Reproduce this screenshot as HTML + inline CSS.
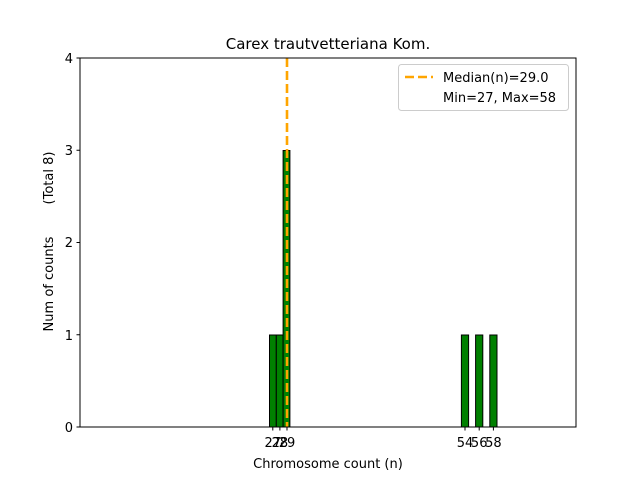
<!DOCTYPE html>
<html><head><style>body{margin:0;background:#fff}svg{display:block}</style></head><body>
<svg width="640" height="480" xmlns="http://www.w3.org/2000/svg" font-family="DejaVu Sans, Liberation Sans, sans-serif">
<rect width="640" height="480" fill="#fff"/>
<g fill="green" stroke="#000" stroke-width="1">
<rect x="269.5" y="335" width="6.8" height="92"/>
<rect x="276.3" y="335" width="6.8" height="92"/>
<rect x="283.1" y="150.5" width="6.8" height="276.5"/>
<rect x="461.4" y="335" width="7.2" height="92"/>
<rect x="475.6" y="335" width="7.2" height="92"/>
<rect x="489.8" y="335" width="7.2" height="92"/>
</g>
<line x1="287" y1="58" x2="287" y2="427" stroke="orange" stroke-width="2.6" stroke-dasharray="9,4"/>
<rect x="80" y="58" width="496" height="369" fill="none" stroke="#000" stroke-width="1"/>
<g stroke="#000">
<line x1="76.5" y1="427" x2="80" y2="427"/><line x1="76.5" y1="334.75" x2="80" y2="334.75"/>
<line x1="76.5" y1="242.5" x2="80" y2="242.5"/><line x1="76.5" y1="150.25" x2="80" y2="150.25"/>
<line x1="76.5" y1="58" x2="80" y2="58"/>
<line x1="272.8" y1="427" x2="272.8" y2="430.5"/><line x1="279.9" y1="427" x2="279.9" y2="430.5"/>
<line x1="287" y1="427" x2="287" y2="430.5"/><line x1="465" y1="427" x2="465" y2="430.5"/>
<line x1="479.2" y1="427" x2="479.2" y2="430.5"/><line x1="493.4" y1="427" x2="493.4" y2="430.5"/>
</g>
<g font-size="13" fill="#000" text-anchor="end">
<text x="73" y="432">0</text><text x="73" y="340">1</text><text x="73" y="247">2</text>
<text x="73" y="155">3</text><text x="73" y="63">4</text>
</g>
<g font-size="13" fill="#000" text-anchor="middle">
<text x="272.8" y="447">27</text><text x="279.9" y="447">28</text><text x="287" y="447">29</text>
<text x="465" y="447">54</text><text x="479.2" y="447">56</text><text x="493.4" y="447">58</text>
<text x="328" y="468">Chromosome count (n)</text>
<text x="328" y="49" font-size="15">Carex trautvetteriana Kom.</text>
</g>
<text transform="translate(53,284) rotate(-90)" font-size="13" text-anchor="middle">Num of counts</text>
<text transform="translate(53,178) rotate(-90)" font-size="13" text-anchor="middle">(Total 8)</text>
<rect x="398.5" y="64.5" width="170" height="46" fill="#fff" stroke="#ccc" rx="3"/>
<line x1="405" y1="77" x2="433" y2="77" stroke="orange" stroke-width="2.6" stroke-dasharray="9,4"/>
<text x="443" y="82" font-size="13">Median(n)=29.0</text>
<text x="443" y="102" font-size="13">Min=27, Max=58</text>
</svg>
</body></html>
